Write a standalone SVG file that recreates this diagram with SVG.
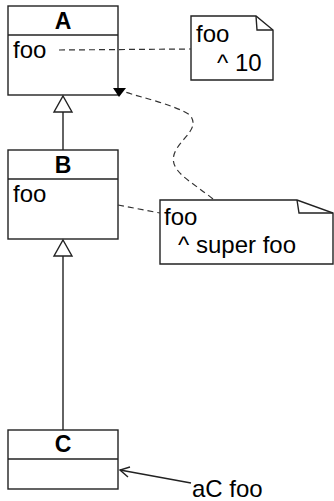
<svg xmlns="http://www.w3.org/2000/svg" width="334" height="501" viewBox="0 0 334 501">
<defs>
<style>
.box{fill:#fff;stroke:#222;stroke-width:1.4}
.ln{fill:none;stroke:#222;stroke-width:1.4}
.ds{fill:none;stroke:#333;stroke-width:1.2;stroke-dasharray:6 4}
.t{font-family:"Liberation Sans",Arial,sans-serif;font-size:24px;fill:#000}
.b{font-weight:bold;text-anchor:middle;font-size:23px}
</style>
</defs>
<rect width="334" height="501" fill="#fff"/>
<g id="A">
<rect class="box" x="8" y="6" width="110" height="89"/>
<line class="ln" x1="8" y1="35" x2="118" y2="35"/>
<text class="t b" x="63" y="29">A</text>
<text class="t" x="13" y="58">foo</text>
</g>
<g id="noteA">
<path class="box" d="M191,16 H256 L273,30 V80 H191 Z"/>
<path class="ln" d="M256,16 L257,30 H273"/>
<text class="t" x="196" y="42">foo</text>
<text class="t" x="217" y="71">^ 10</text>
</g>
<g id="B">
<rect class="box" x="8" y="150" width="110" height="89"/>
<line class="ln" x1="8" y1="179" x2="118" y2="179"/>
<text class="t b" x="63" y="173">B</text>
<text class="t" x="13" y="202">foo</text>
</g>
<g id="noteB">
<path class="box" d="M160,200 H297 L333,213 V264 H160 Z"/>
<path class="ln" d="M297,200 L299,213 H333"/>
<text class="t" x="164" y="225">foo</text>
<text class="t" x="178" y="253">^ super foo</text>
</g>
<g id="C">
<rect class="box" x="8" y="430" width="110" height="59"/>
<line class="ln" x1="8" y1="459" x2="118" y2="459"/>
<text class="t b" x="63" y="452">C</text>
</g>
<g id="connectors">
<path class="ds" d="M59,50 L191,49"/>
<path class="ds" d="M118,205 L160,213"/>
<path class="ds" d="M213,199 C190,180 165,170 176,150 C183,137 200,128 190,115 C175,105 140,97 125,92"/>
<polygon points="113,88 126,88 119,97" fill="#000"/>
<line class="ln" x1="63" y1="112" x2="63" y2="150"/>
<polygon class="box" points="63,96 72,112 54,112"/>
<line class="ln" x1="63" y1="256" x2="63" y2="430"/>
<polygon class="box" points="63,240 72,256 54,256"/>
<line class="ln" x1="191" y1="483" x2="120" y2="470"/>
<polyline class="ln" points="130,467 120,470 128,477"/>
</g>
<g id="label">
<text class="t" x="192" y="497">aC foo</text>
</g>
</svg>
